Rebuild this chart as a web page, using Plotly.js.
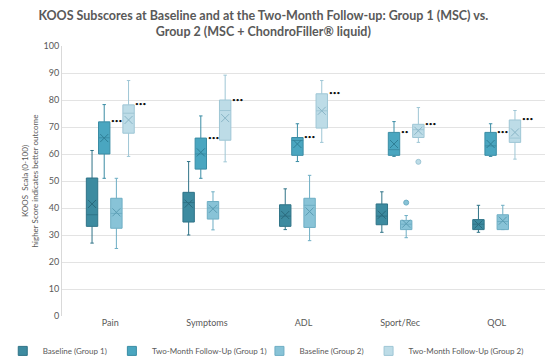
<!DOCTYPE html>
<html><head><meta charset="utf-8">
<script src="https://cdn.plot.ly/plotly-3.0.1.min.js"></script>
<style>html,body{margin:0;padding:0;background:#fff}#chart{width:552px;height:361px}</style>
</head><body><div id="chart"></div>
<script>
const categories = ["Pain", "Symptoms", "ADL", "Sport/Rec", "QOL"];
const seriesNames = ["Baseline (Group 1)", "Two-Month Follow-Up (Group 1)", "Baseline (Group 2)", "Two-Month Follow-Up (Group 2)"];

// [Pain, Symptoms, ADL, Sport/Rec, QOL]
const baseG1_low    = [27, 30, 32, 31, 31];
const baseG1_q1     = [33.2, 34.8, 33.2, 33.8, 32];
const baseG1_median = [37.5, 42, 37, 37, 34];
const baseG1_q3     = [51.1, 45.8, 41.2, 41.5, 35.7];
const baseG1_high   = [61.3, 57.2, 47.1, 46, 41];
const baseG1_mean   = [41.5, 41.6, 37.4, 37.5, 33.9];

const fuG1_low    = [51, 51, 57.2, 59.1, 59.1];
const fuG1_q1     = [60, 54.4, 59.5, 59.5, 59.5];
const fuG1_median = [66, 60, 65, 61.6, 63];
const fuG1_q3     = [71.9, 65.9, 66.1, 68, 68];
const fuG1_high   = [78.3, 74.1, 71.2, 72, 71.2];
const fuG1_mean   = [65.9, 60.6, 63.7, 63.7, 63.7];

const baseG2_low    = [25, 31.9, 27.9, 29, 32];
const baseG2_q1     = [32.5, 35.9, 32.8, 32, 32];
const baseG2_median = [38, 40, 41, 34, 35];
const baseG2_q3     = [43.6, 42.4, 43.6, 35.4, 37.5];
const baseG2_high   = [51, 46, 52.1, 37.2, 41];
const baseG2_mean   = [38.4, 39.7, 38.7, 34.2, 35.3];

const fuG2_low    = [59.1, 57.1, 64.3, 64.3, 58.1];
const fuG2_q1     = [67.7, 65.1, 69.6, 66.1, 64.3];
const fuG2_median = [75.1, 76.1, 76, 69, 65.9];
const fuG2_q3     = [78.2, 80, 82.3, 71, 72.6];
const fuG2_high   = [87.2, 89.2, 87.2, 77.2, 76.1];
const fuG2_mean   = [72.6, 73.3, 76, 68.6, 68];

// outliers: [category, value]
const outlierBaseG2 = [["Sport/Rec", 42]];
const outlierFuG2   = [["Sport/Rec", 57.1]];

// significance labels
const sigFuG1 = ["***", "***", "***", "**", "***"];
const sigFuG2 = ["***", "***", "***", "***", "***"];

const fills = ["#3d8ba0", "#4aa6c0", "#88c3d7", "#bddce7"];
const lines = ["#2f7387", "#3a8ca4", "#6eaec4", "#9ec6d5"];
const markLines = ["#2a6a7d", "#2f7f96", "#5b9db3", "#8ab6c7"];

const stats = [
  [baseG1_low, baseG1_q1, baseG1_median, baseG1_q3, baseG1_high, baseG1_mean],
  [fuG1_low, fuG1_q1, fuG1_median, fuG1_q3, fuG1_high, fuG1_mean],
  [baseG2_low, baseG2_q1, baseG2_median, baseG2_q3, baseG2_high, baseG2_mean],
  [fuG2_low, fuG2_q1, fuG2_median, fuG2_q3, fuG2_high, fuG2_mean]
];

const step = 0.126;
const offsets = [-1.5, -0.5, 0.5, 1.5].map(k => k * step);
const idx = categories.map((c, i) => i);

const traces = [];
stats.forEach((s, k) => {
  const xs = idx.map(i => i + offsets[k]);
  traces.push({
    type: "box", name: seriesNames[k], x: xs, showlegend: false,
    lowerfence: s[0], q1: s[1], median: s[2], q3: s[3], upperfence: s[4],
    width: 0.118, whiskerwidth: 0.3,
    fillcolor: fills[k], line: {color: lines[k], width: 1},
    hoverinfo: "skip"
  });
  traces.push({
    type: "scatter", mode: "markers", x: xs, y: s[5], showlegend: false,
    marker: {symbol: "x-thin-open", size: 8, color: markLines[k], line: {color: markLines[k], width: 1}},
    hoverinfo: "skip"
  });
});
[[outlierBaseG2, 2], [outlierFuG2, 3]].forEach(([pts, k]) => {
  traces.push({
    type: "scatter", mode: "markers", showlegend: false,
    x: pts.map(p => categories.indexOf(p[0]) + offsets[k]),
    y: pts.map(p => p[1]),
    marker: {symbol: "circle", size: 5, color: fills[k], line: {color: lines[k], width: 1}},
    hoverinfo: "skip"
  });
});
// legend entries (square swatches like the reference)
seriesNames.forEach((n, k) => {
  traces.push({
    type: "scatter", mode: "markers", name: n, x: [null], y: [null],
    legend: k < 2 ? "legend" : "legend2",
    marker: {symbol: "square", size: 9, color: fills[k], line: {color: lines[k], width: 1}},
    hoverinfo: "skip"
  });
});

const annotations = [];
[[sigFuG1, fuG1_q3, 1], [sigFuG2, fuG2_q3, 3]].forEach(([sig, q3, k]) => {
  sig.forEach((t, i) => {
    annotations.push({
      x: i + offsets[k] + 0.05, y: q3[i], xref: "x", yref: "y",
      text: t.replace(/\*/g, "•"), showarrow: false,
      xanchor: "left", yanchor: "middle", yshift: 1,
      font: {family: "Lato, sans-serif", size: 6.5, color: "#111"}
    });
  });
});

const legendBase = {
  orientation: "h", xref: "container", yref: "container",
  y: 0.028, yanchor: "middle", xanchor: "left",
  font: {size: 8, color: "#595959"}, traceorder: "normal",
  itemwidth: 30, bgcolor: "rgba(0,0,0,0)"
};

const layout = {
  width: 552, height: 361,
  margin: {l: 62, r: 7, t: 46, b: 45},
  paper_bgcolor: "#fff", plot_bgcolor: "#fff",
  font: {family: "Lato, sans-serif", color: "#595959", size: 9},
  title: {
    text: "<b>KOOS Subscores at Baseline and at the Two-Month Follow-up: Group 1 (MSC) vs.<br>Group 2 (MSC + ChondroFiller® liquid)</b>",
    font: {family: "Lato, sans-serif", size: 12.5, color: "#595959"},
    x: 0.477, xanchor: "center", xref: "container", y: 0.945, yanchor: "middle", yref: "container"
  },
  showlegend: true,
  legend: Object.assign({}, legendBase, {x: 0.005}),
  legend2: Object.assign({}, legendBase, {x: 0.47}),
  xaxis: {
    range: [-0.5, 4.5], tickmode: "array", tickvals: idx, ticktext: categories,
    showgrid: false, zeroline: false, showline: false, ticks: "",
    tickfont: {size: 9, color: "#595959"}, fixedrange: true
  },
  yaxis: {
    range: [0, 100], dtick: 10, showgrid: true, gridcolor: "#e3e3e3", gridwidth: 1,
    zeroline: false, showline: true, linecolor: "#d9d9d9", ticks: "",
    tickfont: {size: 9, color: "#595959"},
    title: {text: "KOOS  Scala (0-100)<br>higher Score indicates better outcome", font: {size: 8, color: "#595959"}, standoff: 3}
  },
  annotations: annotations
};
Plotly.newPlot("chart", traces, layout, {displayModeBar: false, staticPlot: true});
</script></body></html>
